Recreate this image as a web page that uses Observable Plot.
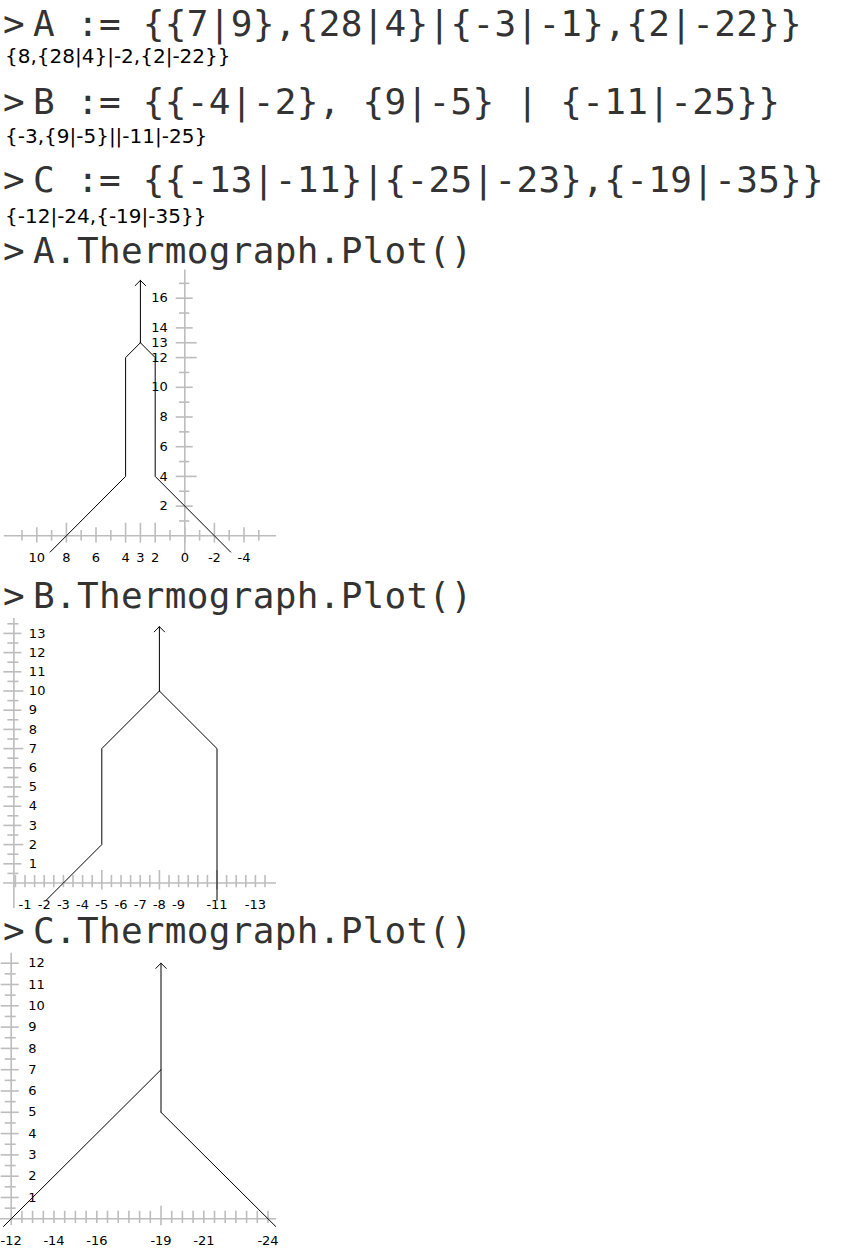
<!DOCTYPE html>
<html><head><meta charset="utf-8">
<script src="https://cdn.jsdelivr.net/npm/d3@7"></script>
<script src="https://cdn.jsdelivr.net/npm/@observablehq/plot@0.6"></script>
<style>
html,body{margin:0;padding:0;background:#fff}
body{width:843px;height:1257px;position:relative;overflow:hidden}
.code{position:absolute;font-family:"DejaVu Sans Mono",monospace;font-size:36px;letter-spacing:0.3px;color:#333;white-space:pre;line-height:1}
.prompt{position:absolute;font-family:"DejaVu Sans Mono",monospace;font-size:36px;color:#333;line-height:1}
.out{position:absolute;left:5px;font-family:"DejaVu Sans",sans-serif;font-size:20px;color:#000;white-space:pre;line-height:1}
.plot{position:absolute;left:0}
.plot svg{overflow:visible}
</style></head><body>
<script>
// ---------- text lines ----------
const codeLines = [
  "A := {{7|9},{28|4}|{-3|-1},{2|-22}}",
  "B := {{-4|-2}, {9|-5} | {-11|-25}}",
  "C := {{-13|-11}|{-25|-23},{-19|-35}}",
  "A.Thermograph.Plot()",
  "B.Thermograph.Plot()",
  "C.Thermograph.Plot()"
];
const outLines = [
  "{8,{28|4}|-2,{2|-22}}",
  "{-3,{9|-5}||-11|-25}",
  "{-12|-24,{-19|-35}}"
];

// ---------- Game A thermograph ----------
const aXLabels = [10, 8, 6, 4, 3, 2, 0, -2, -4];
const aYLabels = [2, 4, 6, 8, 10, 12, 13, 14, 16];
const aXTicks = [11, 10, 9, 8, 7, 6, 5, 4, 3, 2, 1, 0, -1, -2, -3, -4, -5];
const aYTicks = [1, 2, 3, 4, 5, 6, 7, 8, 9, 10, 11, 12, 13, 14, 15, 16, 17];
const aXSpecial = [8, 4, 3, 2, -2];
const aYSpecial = [4, 12, 13];
const aLeftWall = [[9.1, -1.1], [8, 0], [4, 4], [4, 12], [3, 13]];
const aRightWall = [[-3.1, -1.1], [-2, 0], [2, 4], [2, 12], [3, 13]];
const aMast = [[3, 13, 17.2]];

// ---------- Game B thermograph ----------
const bXLabels = [-1, -2, -3, -4, -5, -6, -7, -8, -9, -11, -13];
const bYLabels = [1, 2, 3, 4, 5, 6, 7, 8, 9, 10, 11, 12, 13];
const bXTicks = [-0.5, -1, -1.5, -2, -2.5, -3, -3.5, -4, -4.5, -5, -5.5, -6, -6.5, -7, -7.5, -8, -8.5, -9, -9.5, -10, -10.5, -11, -11.5, -12, -12.5, -13, -13.5];
const bYTicks = [0.5, 1, 1.5, 2, 2.5, 3, 3.5, 4, 4.5, 5, 5.5, 6, 6.5, 7, 7.5, 8, 8.5, 9, 9.5, 10, 10.5, 11, 11.5, 12, 12.5, 13, 13.5];
const bXSpecial = [-5, -8, -11];
const bYSpecial = [2, 7, 10];
const bLeftWall = [[-2.1, -0.9], [-3, 0], [-5, 2], [-5, 7], [-8, 10]];
const bRightWall = [[-11, -0.9], [-11, 7], [-8, 10]];
const bMast = [[-8, 10, 13.35]];

// ---------- Game C thermograph ----------
const cXLabels = [-12, -14, -16, -19, -21, -24];
const cYLabels = [1, 2, 3, 4, 5, 6, 7, 8, 9, 10, 11, 12];
const cXTicks = [-12.5, -13, -13.5, -14, -14.5, -15, -15.5, -16, -16.5, -17, -17.5, -18, -18.5, -19, -19.5, -20, -20.5, -21, -21.5, -22, -22.5, -23, -23.5, -24];
const cYTicks = [0.5, 1, 1.5, 2, 2.5, 3, 3.5, 4, 4.5, 5, 5.5, 6, 6.5, 7, 7.5, 8, 8.5, 9, 9.5, 10, 10.5, 11, 11.5, 12];
const cXSpecial = [-19];
const cYSpecial = [];
const cLeftWall = [[-11.64, -0.36], [-12, 0], [-19, 7]];
const cRightWall = [[-24.36, -0.36], [-24, 0], [-19, 5]];
const cMast = [[-19, 5, 12]];

// ---------- layout ----------
const W = 280;
function baselineTop(b, size) { return b - 0.846 * size; }

const codeBase = [36, 114, 192, 263, 608, 943];
const outBase = [63, 143, 223];
codeLines.forEach((s, i) => {
  const p = document.createElement("div");
  p.className = "prompt"; p.textContent = ">";
  p.style.left = "3px"; p.style.top = baselineTop(codeBase[i], 36) + "px";
  document.body.appendChild(p);
  const d = document.createElement("div");
  d.className = "code"; d.textContent = s;
  d.style.left = "33px"; d.style.top = baselineTop(codeBase[i], 36) + "px";
  document.body.appendChild(d);
});
outLines.forEach((s, i) => {
  const d = document.createElement("div");
  d.className = "out"; d.textContent = s;
  d.style.top = baselineTop(outBase[i], 20) + "px";
  document.body.appendChild(d);
});

const AX = "#bdbdbd";
function thermo(g) {
  const {top, H, xAt0, ux, tTop, uy, axisX, hAxis, vAxis,
         xTicks, yTicks, xLabels, yLabels, xSpecial, ySpecial,
         left, right, mast, yLabelSide, yLabelDx, xLabelDy, minor, major, special} = g;
  const xDomain = [xAt0, xAt0 - W / ux];
  const yDomain = [tTop - H / uy, tTop];
  const px2t = p => -p / uy;   // pixel offset (down +) to t offset
  const px2x = p => -p / ux;   // pixel offset (right +) to x offset
  const isLab = new Set(xLabels), isLabY = new Set(yLabels);
  const xt = xTicks.map(v => {
    const s = xSpecial.includes(v) ? special.x : (isLab.has(v) ? major.x : minor.x);
    return {v, y1: px2t(s[0]), y2: px2t(s[1])};
  });
  const yt = yTicks.map(v => {
    const s = ySpecial.includes(v) ? special.y : (isLabY.has(v) ? major.y : minor.y);
    return {v, x1: axisX + px2x(s[0]), x2: axisX + px2x(s[1])};
  });
  const svg = Plot.plot({
    width: W, height: H, margin: 0,
    x: {domain: xDomain, axis: null},
    y: {domain: yDomain, axis: null},
    style: {background: "transparent", overflow: "visible"},
    marks: [
      Plot.ruleY([0], {x1: hAxis[0], x2: hAxis[1], stroke: AX, strokeWidth: 1.6}),
      Plot.ruleX([axisX], {y1: vAxis[0], y2: vAxis[1], stroke: AX, strokeWidth: 1.6}),
      Plot.ruleX(xt, {x: "v", y1: "y1", y2: "y2", stroke: AX, strokeWidth: 1.6}),
      Plot.ruleY(yt, {y: "v", x1: "x1", x2: "x2", stroke: AX, strokeWidth: 1.6}),
      Plot.text(yLabels, {x: axisX, y: d => d, text: d => String(d), textAnchor: yLabelSide, dx: yLabelDx,
        fontSize: 13, fontFamily: "DejaVu Sans", fill: "#000"}),
      Plot.text(xLabels, {x: d => d, y: 0, text: d => String(d), dy: xLabelDy,
        fontSize: 13, fontFamily: "DejaVu Sans", fill: "#000"}),
      Plot.line(left, {x: d => d[0], y: d => d[1], stroke: "#000", strokeWidth: 1}),
      Plot.line(right, {x: d => d[0], y: d => d[1], stroke: "#000", strokeWidth: 1}),
      Plot.arrow(mast, {x1: d => d[0], y1: d => d[1], x2: d => d[0], y2: d => d[2],
        stroke: "#000", strokeWidth: 1, headAngle: 90, headLength: 11, bend: 0})
    ]
  });
  const wrap = document.createElement("div");
  wrap.className = "plot"; wrap.style.top = top + "px";
  wrap.appendChild(svg);
  document.body.appendChild(wrap);
}

thermo({top: 270, H: 300, xAt0: 184.3 / 14.8, ux: 14.8, tTop: (535.3 - 270) / 14.85, uy: 14.85,
  axisX: 0, hAxis: [12.2, -6.2], vAxis: [-1.2, 17.9],
  xTicks: aXTicks, yTicks: aYTicks, xLabels: aXLabels, yLabels: aYLabels,
  xSpecial: aXSpecial, ySpecial: aYSpecial, left: aLeftWall, right: aRightWall, mast: aMast,
  yLabelSide: "end", yLabelDx: -17, xLabelDy: 22,
  minor: {x: [-5.3, 5.3], y: [-5.3, 5]}, major: {x: [-8, 7.3], y: [-8.6, 8.4]}, special: {x: [-12.5, 7.3], y: [-8.6, 12.4]}});

thermo({top: 615, H: 300, xAt0: 5.3 / 19.2, ux: 19.2, tTop: (882.5 - 615) / 19.2, uy: 19.2,
  axisX: -0.42, hAxis: [0.12, -14.1], vAxis: [-1.33, 13.77],
  xTicks: bXTicks, yTicks: bYTicks, xLabels: bXLabels, yLabels: bYLabels,
  xSpecial: bXSpecial, ySpecial: bYSpecial, left: bLeftWall, right: bRightWall, mast: bMast,
  yLabelSide: "start", yLabelDx: 15, xLabelDy: 21.6,
  minor: {x: [-7.5, 4.7], y: [-6, 5]}, major: {x: [-7.5, 4.7], y: [-10, 8]}, special: {x: [-12.5, 7], y: [-10, 10]}});

thermo({top: 945, H: 312, xAt0: -12 + 10.7 / 21.4, ux: 21.4, tTop: (1218.3 - 945) / 21.3, uy: 21.3,
  axisX: -12, hAxis: [-11.5, -24.4], vAxis: [-0.31, 12.47],
  xTicks: cXTicks, yTicks: cYTicks, xLabels: cXLabels, yLabels: cYLabels,
  xSpecial: cXSpecial, ySpecial: cYSpecial, left: cLeftWall, right: cRightWall, mast: cMast,
  yLabelSide: "start", yLabelDx: 17, xLabelDy: 21.7,
  minor: {x: [-7.5, 4.7], y: [-6, 5]}, major: {x: [-7.5, 4.7], y: [-10, 8]}, special: {x: [-12.5, 7], y: [-10, 10]}});
</script>
</body></html>
